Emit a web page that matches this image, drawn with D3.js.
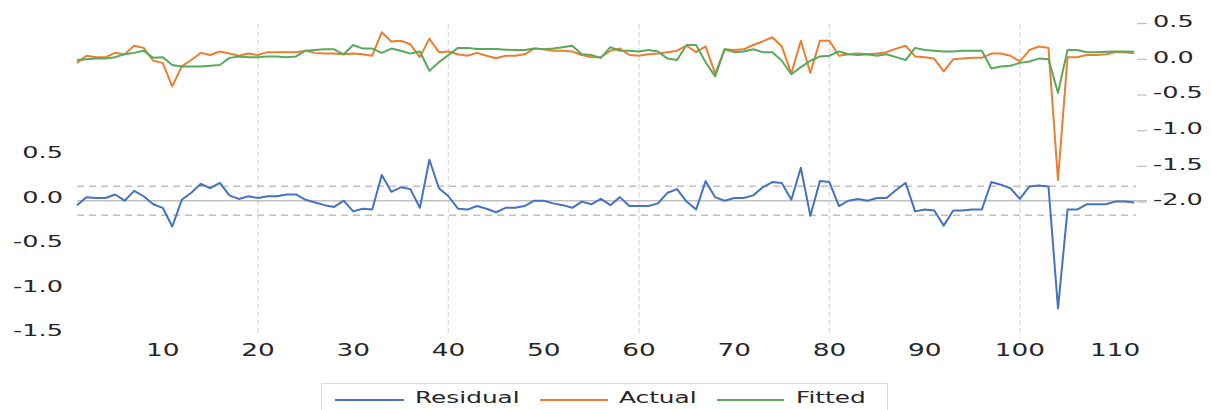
<!DOCTYPE html>
<html><head><meta charset="utf-8">
<script src="https://cdn.jsdelivr.net/npm/d3@7"></script>
<style>html,body{margin:0;padding:0;background:#fff;} svg{display:block;}</style>
</head><body>
<svg id="c" width="1211" height="410"></svg>
<script>
// ---------- data ----------
const observations = d3.range(1, 113);
const actual = [
 -0.05,0.05,0.03,0.03,0.09,0.07,0.19,0.16,-0.02,-0.05,
 -0.38,-0.10,-0.01,0.09,0.06,0.11,0.08,0.05,0.08,0.06,
 0.10,0.10,0.10,0.10,0.12,0.09,0.08,0.08,0.07,0.08,
 0.07,0.05,0.38,0.25,0.26,0.21,0.03,0.29,0.10,0.11,
 0.07,0.05,0.09,0.05,0.015,0.05,0.05,0.07,0.15,0.14,
 0.12,0.12,0.11,0.06,0.03,0.03,0.12,0.15,0.06,0.05,
 0.07,0.08,0.10,0.12,0.19,0.10,0.18,-0.20,0.14,0.13,
 0.14,0.20,0.25,0.31,0.18,-0.20,0.26,-0.19,0.26,0.26,
 0.05,0.07,0.08,0.07,0.08,0.10,0.15,0.19,0.04,0.03,
 0.01,-0.17,0.00,0.01,0.02,0.02,0.08,0.08,0.05,-0.03,
 0.13,0.18,0.16,-1.69,0.03,0.03,0.06,0.06,0.07,0.10,
 0.10,0.085];
const fitted = [
 -0.01,0.00,0.01,0.01,0.03,0.07,0.09,0.12,0.02,0.03,
 -0.08,-0.10,-0.10,-0.10,-0.09,-0.08,0.02,0.04,0.03,0.03,
 0.04,0.04,0.03,0.04,0.12,0.13,0.14,0.14,0.07,0.20,
 0.15,0.15,0.09,0.15,0.12,0.08,0.11,-0.16,-0.04,0.06,
 0.16,0.16,0.145,0.145,0.145,0.135,0.13,0.13,0.15,0.14,
 0.15,0.17,0.19,0.07,0.06,0.02,0.17,0.12,0.12,0.11,
 0.13,0.11,0.01,-0.01,0.20,0.20,-0.04,-0.24,0.14,0.10,
 0.11,0.14,0.10,0.10,-0.02,-0.21,-0.11,-0.02,0.04,0.05,
 0.11,0.07,0.06,0.07,0.05,0.07,0.03,-0.01,0.16,0.13,
 0.12,0.11,0.11,0.12,0.12,0.12,-0.13,-0.10,-0.09,-0.05,
 -0.03,0.01,0.00,-0.47,0.13,0.13,0.10,0.10,0.105,0.11,
 0.11,0.105];
const residual = [
 -0.05,0.04,0.03,0.03,0.07,0.00,0.11,0.05,-0.04,-0.08,
 -0.29,0.01,0.09,0.19,0.14,0.20,0.06,0.02,0.05,0.03,
 0.05,0.05,0.07,0.07,0.01,-0.02,-0.05,-0.07,0.00,-0.12,
 -0.09,-0.10,0.29,0.10,0.15,0.13,-0.08,0.46,0.14,0.05,
 -0.09,-0.10,-0.06,-0.09,-0.13,-0.08,-0.08,-0.06,0.00,0.00,
 -0.03,-0.05,-0.08,-0.01,-0.04,0.02,-0.05,0.04,-0.06,-0.06,
 -0.06,-0.03,0.09,0.13,-0.01,-0.10,0.22,0.04,0.00,0.03,
 0.03,0.06,0.15,0.21,0.20,0.01,0.37,-0.17,0.22,0.21,
 -0.06,0.00,0.02,0.00,0.03,0.03,0.12,0.20,-0.12,-0.10,
 -0.11,-0.28,-0.11,-0.11,-0.10,-0.10,0.21,0.18,0.14,0.02,
 0.16,0.17,0.16,-1.21,-0.10,-0.10,-0.04,-0.04,-0.04,-0.01,
 -0.01,-0.02];
const stdErr = 0.163;
const xTicks = [10,20,30,40,50,60,70,80,90,100,110];
const gridTicks = [20,40,60,80,100];
const leftTicks = [0.5,0.0,-0.5,-1.0,-1.5];
const leftLabels = ["0.5","0.0","-0.5","-1.0","-1.5"];
const rightTicks = [0.5,0.0,-0.5,-1.0,-1.5,-2.0];
const rightLabels = ["0.5","0.0","-0.5","-1.0","-1.5","-2.0"];
const seriesNames = ["Residual","Actual","Fitted"];
const colors = {Residual:"#4472C4", Actual:"#ED7D31", Fitted:"#58A95C"};

// ---------- scales ----------
const svg = d3.select("#c");
const x = d3.scaleLinear().domain([1,112]).range([77,1134.2]);
const yRes = d3.scaleLinear().domain([-1.5,0.5]).range([334.2,156.2]);
const yAF = d3.scaleLinear().domain([-2,0.5]).range([202.1,23.6]);

const FONT = "'DejaVu Sans', Verdana, sans-serif";
const SX = 1.55;
function txt(g, px, py, s, anchor, size){
  return g.append("text")
    .attr("transform", `translate(${px},${py}) scale(${SX},1)`)
    .attr("text-anchor", anchor)
    .attr("dominant-baseline","central")
    .attr("font-family", FONT)
    .attr("font-size", size || 16.5)
    .attr("fill", "#262626")
    .text(s);
}

// vertical grid
svg.append("g").selectAll("line").data(gridTicks).join("line")
  .attr("x1", d=>x(d)).attr("x2", d=>x(d))
  .attr("y1", 24).attr("y2", 333)
  .attr("stroke", "#dedede").attr("stroke-width", 1.5)
  .attr("stroke-dasharray", "5,3");

// residual reference lines
svg.append("line").attr("x1", x(1)).attr("x2", 1147)
  .attr("y1", yRes(0)).attr("y2", yRes(0))
  .attr("stroke", "#c0c0c0").attr("stroke-width", 1.5);
[stdErr, -stdErr].forEach(v=>{
  svg.append("line").attr("x1", x(1)).attr("x2", 1136)
    .attr("y1", yRes(v)).attr("y2", yRes(v))
    .attr("stroke", "#c0c0c0").attr("stroke-width", 1.5)
    .attr("stroke-dasharray", "7,5");
});

// right axis ticks
const ra = svg.append("g");
ra.selectAll("line").data(rightTicks).join("line")
  .attr("x1", 1137).attr("x2", 1147)
  .attr("y1", d=>yAF(d)).attr("y2", d=>yAF(d))
  .attr("stroke", "#c0c0c0").attr("stroke-width", 1.2);
rightTicks.forEach((t,i)=> txt(ra, 1153, yAF(t)-2.5, rightLabels[i], "start"));

// left axis labels
const la = svg.append("g");
leftTicks.forEach((t,i)=> txt(la, 63, yRes(t)-3.5, leftLabels[i], "end"));

// x axis labels
const xa = svg.append("g");
xTicks.forEach(t=> txt(xa, x(t), 350, String(t), "middle", 17));

// lines
const lineRes = d3.line().x((d,i)=>x(observations[i])).y(d=>yRes(d));
const lineAF = d3.line().x((d,i)=>x(observations[i])).y(d=>yAF(d));
svg.append("path").attr("d", lineRes(residual)).attr("fill","none")
  .attr("stroke", colors.Residual).attr("stroke-width", 2).attr("stroke-linejoin","round");
svg.append("path").attr("d", lineAF(actual)).attr("fill","none")
  .attr("stroke", colors.Actual).attr("stroke-width", 2).attr("stroke-linejoin","round");
svg.append("path").attr("d", lineAF(fitted)).attr("fill","none")
  .attr("stroke", colors.Fitted).attr("stroke-width", 2).attr("stroke-linejoin","round");

// legend
const lg = svg.append("g");
lg.append("rect").attr("x", 321.5).attr("y", 383.5).attr("width", 566).attr("height", 40)
  .attr("fill", "#fff").attr("stroke", "#d9d9d9");
const legPos = [{x1:335,x2:404,tx:415},{x1:540,x2:608,tx:619},{x1:717,x2:784,tx:796}];
seriesNames.forEach((n,i)=>{
  const p = legPos[i];
  lg.append("line").attr("x1", p.x1).attr("x2", p.x2).attr("y1", 400).attr("y2", 400)
    .attr("stroke", colors[n]).attr("stroke-width", 2);
  txt(lg, p.tx, 398, n, "start", 16);
});
</script>
</body></html>
